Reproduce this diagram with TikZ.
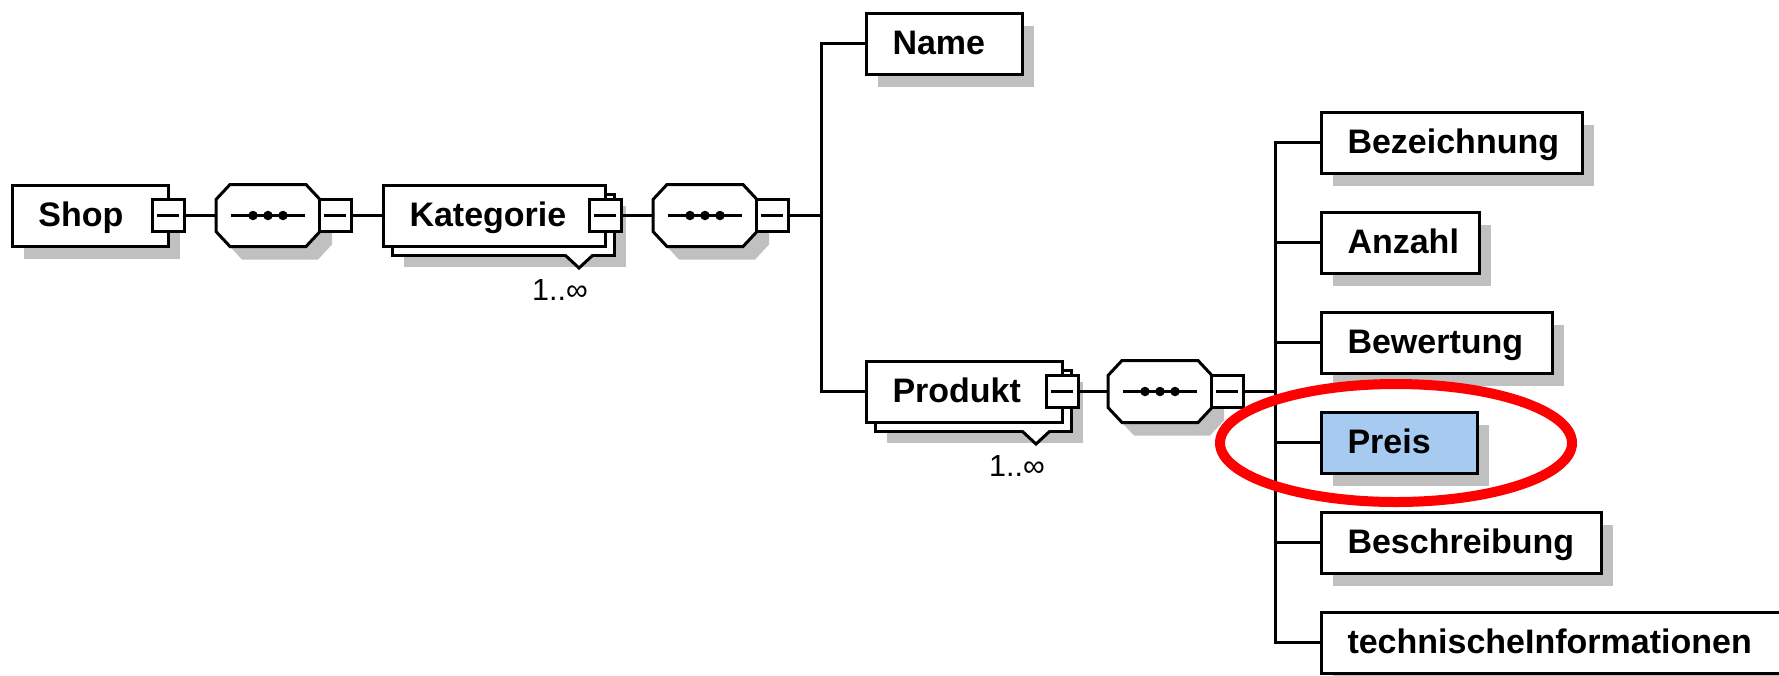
\documentclass[tikz,border=0pt]{standalone}
\usepackage{fontspec}
\setmainfont{Liberation Sans}
\usetikzlibrary{calc,shapes.geometric}

\definecolor{shadowgray}{RGB}{192,192,192}
\definecolor{selblue}{RGB}{166,202,240}
\definecolor{ringred}{RGB}{255,0,0}
\newcommand\pxu{0.4pt}

\tikzset{
  frame/.style={draw=black, line width=1.2pt, inner sep=0pt, outer sep=0pt,
    minimum height={61*\pxu}},
  elemlabel/.style={font=\fontsize{13.6}{16}\selectfont\bfseries, inner sep=0pt,
    anchor=base west},
  minusbox/.style={draw=black, fill=white, line width=1.2pt, inner sep=0pt,
    outer sep=0pt, minimum width={32*\pxu}, minimum height={32*\pxu}},
  wire/.style={draw=black, line width=1.2pt},
  cardlabel/.style={font=\fontsize{12.2}{14}\selectfont, inner sep=0pt},
}

% collapse button: small square with a minus sign
\newcommand\collapser[2]{% name, anchor point
  \node[minusbox] (#1) at (#2) {};
  \draw[line width=1pt] ($(#1.center)+(-11,0)$) -- ($(#1.center)+(11,0)$);
}

% single element: shadow, frame, label
\newcommand\elementbox[6]{% name, left, top, width, text, fill
  \fill[shadowgray] (#2+12,#3+13) rectangle (#2+#4+12,#3+74);
  \node[frame, fill=#6, minimum width={#4*\pxu}, anchor=north west] (#1) at (#2,#3) {};
  \node[elemlabel] (#1-text) at (#2+26,#3+41.5) {#5};
}

% repeated element: stacked frames, cardinality marker and label
\newcommand\stackbox[5]{% name, left, top, width, text
  \fill[shadowgray] (#2+21,#3+21) rectangle (#2+#4+21,#3+82);
  \draw[line width=1.2pt, fill=white] (#2+9,#3+9) rectangle (#2+#4+9,#3+70);
  \node[frame, fill=white, minimum width={#4*\pxu}, anchor=north west] (#1) at (#2,#3) {};
  \node[elemlabel] (#1-text) at (#2+26,#3+41.5) {#5};
  \fill[white] (#2+#4-41,#3+68) -- (#2+#4-26,#3+82) -- (#2+#4-11,#3+68) -- cycle;
  \draw[line width=1.2pt] (#2+#4-40,#3+70) -- (#2+#4-26,#3+83) -- (#2+#4-12,#3+70);
  \node[cardlabel] (#1-card) at (#2+#4-45,#3+105) {1..∞};
}

% sequence compositor: octagon with dotted line
\newcommand\seqgroup[3]{% name, left, centre y
  \fill[shadowgray] (#2+12,#3-3) -- (#2+26,#3-18) -- (#2+102,#3-18) -- (#2+116,#3-3)
    -- (#2+116,#3+29) -- (#2+102,#3+44) -- (#2+26,#3+44) -- (#2+12,#3+29) -- cycle;
  \draw[line width=1.2pt, fill=white] (#2,#3-16) -- (#2+14,#3-31) -- (#2+90,#3-31)
    -- (#2+104,#3-16) -- (#2+104,#3+16) -- (#2+90,#3+31) -- (#2+14,#3+31)
    -- (#2,#3+16) -- cycle;
  \draw[line width=1.2pt] (#2+15,#3) -- (#2+89,#3);
  \fill (#2+37,#3) circle[radius=1.9pt];
  \fill (#2+52,#3) circle[radius=1.9pt];
  \fill (#2+67,#3) circle[radius=1.9pt];
  \coordinate (#1-in) at (#2,#3);
  \collapser{#1-m}{#2+119,#3}
}

\begin{document}
\begin{tikzpicture}[x=0.4pt, y=-0.4pt]
  \fill[white] (0,0) rectangle (1779,675);
  \useasboundingbox (0,0) rectangle (1779,675);

  % root and its sequence
  \elementbox{shop}{12}{185}{156}{Shop}{white}
  \collapser{shop-m}{shop.east}
  \seqgroup{seq1}{216}{215.5}

  \stackbox{kat}{383}{185}{222}{Kategorie}
  \collapser{kat-m}{kat.east}
  \seqgroup{seq2}{653}{215.5}

  \elementbox{name}{866}{13}{156}{Name}{white}
  \stackbox{prod}{866}{361}{196}{Produkt}
  \collapser{prod-m}{prod.east}
  \seqgroup{seq3}{1108}{391.5}

  % children of Produkt
  \elementbox{bez}{1321}{112}{261}{Bezeichnung}{white}
  \elementbox{anz}{1321}{212}{158}{Anzahl}{white}
  \elementbox{bew}{1321}{312}{231}{Bewertung}{white}
  \elementbox{preis}{1321}{412}{156}{Preis}{selblue}
  \elementbox{besch}{1321}{512}{280}{Beschreibung}{white}
  \elementbox{tech}{1321}{612}{480}{technischeInformationen}{white}

  % connectors
  \coordinate (bus1) at (821,215.5);
  \coordinate (bus2) at (1275,391.5);
  \draw[wire] (shop-m.east) -- (seq1-in);
  \draw[wire] (seq1-m.east) -- (kat.west);
  \draw[wire] (kat-m.east) -- (seq2-in);
  \draw[wire] (seq2-m.east) -- (bus1);
  \draw[wire] (name.west) -| (bus1) |- (prod.west);
  \draw[wire] (prod-m.east) -- (seq3-in);
  \draw[wire] (seq3-m.east) -- (bus2);
  \draw[wire] (bez.west) -| (bus2) |- (tech.west);
  \foreach \c in {anz,bew,preis,besch}
    \draw[wire] (\c.west) -- (\c.west -| bus2);

  % highlight ring
  \node[draw=ringred, line width=4pt, ellipse, inner sep=0pt,
    minimum width={352*\pxu}, minimum height={118*\pxu}] (ring) at (1396,443) {};
\end{tikzpicture}
\end{document}
